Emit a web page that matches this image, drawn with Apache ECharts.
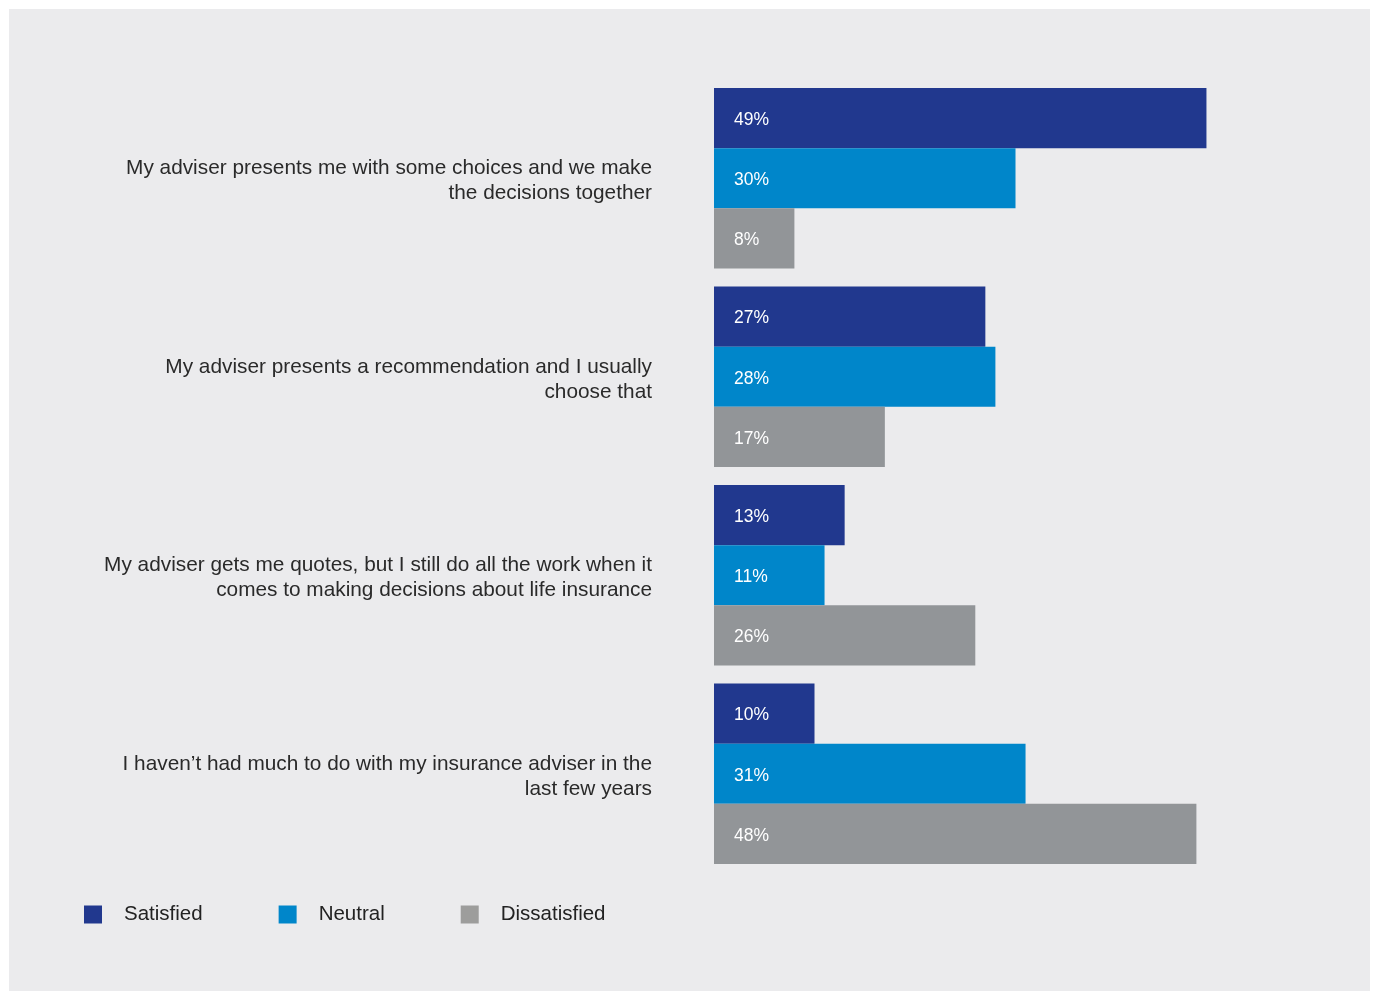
<!DOCTYPE html>
<html>
<head>
<meta charset="utf-8">
<script src="https://cdn.jsdelivr.net/npm/echarts@6/dist/echarts.min.js"></script>
<style>
html,body{margin:0;padding:0;background:#fff;}
#chart{width:1378px;height:992px;}
</style>
</head>
<body>
<div id="chart"></div>
<script>
const categories = [
  'My adviser presents me with some choices and we make\nthe decisions together',
  'My adviser presents a recommendation and I usually\nchoose that',
  'My adviser gets me quotes, but I still do all the work when it\ncomes to making decisions about life insurance',
  'I haven\u2019t had much to do with my insurance adviser in the\nlast few years'
];
const seriesNames = ['Satisfied', 'Neutral', 'Dissatisfied'];
const satisfied = [49, 27, 13, 10];
const neutral = [30, 28, 11, 31];
const dissatisfied = [8, 17, 26, 48];

const colors = ['#21388E', '#0086CA', '#929598'];
const legendColors = ['#21388E', '#0086CA', '#9D9D9C'];
const FONT = '"Liberation Sans", Arial, sans-serif';

const chart = echarts.init(document.getElementById('chart'), null, {renderer: 'canvas'});
const values = [satisfied, neutral, dissatisfied];

const option = {
  backgroundColor: '#ffffff',
  animation: false,
  graphic: [{
    type: 'rect', z: -10, silent: true,
    shape: {x: 9, y: 9, width: 1361, height: 982},
    style: {fill: '#EBEBED'}
  }],
  legend: {
    left: 79, top: 899,
    icon: 'rect', itemWidth: 18, itemHeight: 18,
    itemGap: 76,
    textStyle: {fontFamily: FONT, fontSize: 20.5, color: '#222', padding: [0, 0, 0, 17]},
    data: seriesNames.map((n, i) => ({name: n, itemStyle: {color: legendColors[i]}}))
  },
  grid: {left: 714, top: 79, width: 603, height: 794, containLabel: false},
  xAxis: {
    type: 'value', min: 0, max: 60,
    show: false
  },
  yAxis: {
    type: 'category', inverse: true, data: categories,
    axisLine: {show: false}, axisTick: {show: false}, splitLine: {show: false},
    axisLabel: {
      margin: 62, align: 'right',
      formatter: v => '{s| }\n' + v.split('\n').map(l => '{a|' + l + '}').join('\n'),
      rich: {
        s: {fontSize: 1, lineHeight: 6},
        a: {fontFamily: FONT, fontSize: 20.8, lineHeight: 25, color: '#2a2a2a', align: 'right'}
      }
    }
  },
  series: seriesNames.map((n, i) => ({
    name: n, type: 'bar', data: values[i],
    barGap: '0%', barCategoryGap: '9%',
    itemStyle: {color: colors[i]},
    label: {
      show: true, position: 'insideLeft', distance: 20, offset: [0, 2],
      formatter: '{c}%', color: '#ffffff', fontFamily: FONT, fontSize: 17.5
    }
  }))
};
chart.setOption(option);
</script>
</body>
</html>
